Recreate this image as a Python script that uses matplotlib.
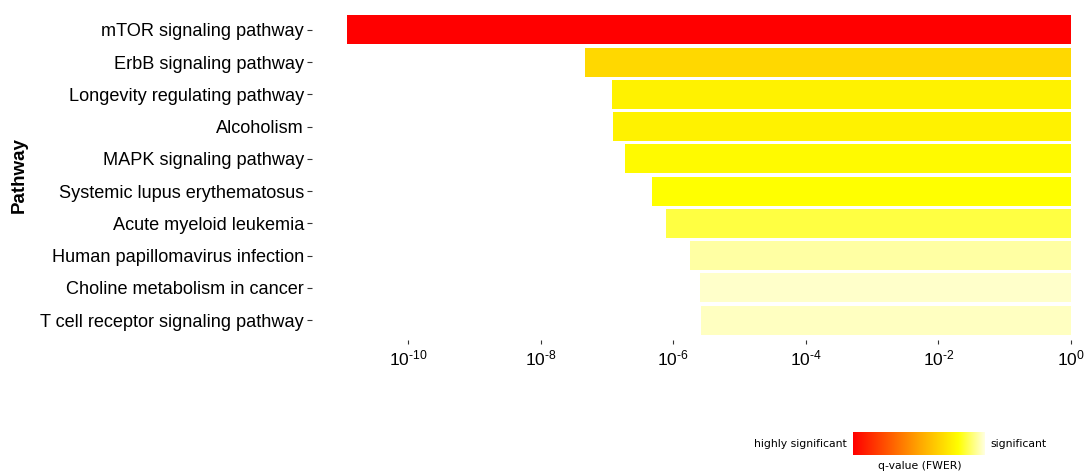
import numpy as np
import matplotlib
matplotlib.use('Agg')
import matplotlib.pyplot as plt
from matplotlib.colors import LinearSegmentedColormap, Normalize

# pathways, top to bottom
pathways = [
    "mTOR signaling pathway",
    "ErbB signaling pathway",
    "Longevity regulating pathway",
    "Alcoholism",
    "MAPK signaling pathway",
    "Systemic lupus erythematosus",
    "Acute myeloid leukemia",
    "Human papillomavirus infection",
    "Choline metabolism in cancer",
    "T cell receptor signaling pathway",
]
# p-value where each bar starts (bars run up to 10^0)
p_values = [1.2e-11, 4.6e-8, 1.2e-7, 1.25e-7, 1.9e-7, 4.8e-7, 7.9e-7, 1.8e-6, 2.5e-6, 2.6e-6]
# q-value (FWER), drives the bar colour
q_fwer = [0.0, 0.0335, 0.0378, 0.0378, 0.0392, 0.0400, 0.0428, 0.0472, 0.0490, 0.0486]

x_ticks = [1e-10, 1e-8, 1e-6, 1e-4, 1e-2, 1e0]
x_tick_labels = [r"$10^{\text{-}10}$", r"$10^{\text{-}8}$", r"$10^{\text{-}6}$",
                 r"$10^{\text{-}4}$", r"$10^{\text{-}2}$", r"$10^{0}$"]

plt.rcParams['font.family'] = ['Liberation Sans', 'DejaVu Sans']
plt.rcParams['mathtext.fontset'] = 'custom'
plt.rcParams['mathtext.rm'] = 'Liberation Sans'
plt.rcParams['mathtext.it'] = 'Liberation Sans:italic'
plt.rcParams['mathtext.default'] = 'rm'

cmap = LinearSegmentedColormap.from_list(
    "sig", [(0.0, '#FF0000'), (0.5, '#FFA500'), (0.8, '#FFFF00'), (1.0, '#FFFFE0')])
norm = Normalize(vmin=0.0, vmax=0.05)

fig = plt.figure(figsize=(10.88, 4.73), dpi=100)
ax = fig.add_axes([0.2868, 0.2812, 0.7132, 0.6977])

y = np.arange(len(pathways))
colors = cmap(norm(np.array(q_fwer)))
ax.barh(y, [1.0 - p for p in p_values], left=p_values, height=0.9, color=colors, edgecolor='none')

ax.set_xscale('log')
ax.set_xlim(10 ** -11.448, 10 ** 0.256)
ax.set_ylim(len(pathways) - 1 + 0.62, -0.62)
ax.set_xticks(x_ticks)
ax.set_xticklabels(x_tick_labels, fontsize=12.5)
ax.minorticks_off()
ax.set_yticks(y)
ax.set_yticklabels(pathways, fontsize=13.1)
ax.tick_params(axis='y', length=3.6, width=0.8, color='#333333', pad=2.2)
ax.tick_params(axis='x', length=3.0, width=0.8, color='#333333', pad=3.0)
for s in ax.spines.values():
    s.set_visible(False)
ax.set_ylabel("Pathway", fontsize=13.5, fontweight='bold')
ax.yaxis.set_label_coords(-0.366, 0.5)

# colour legend at the bottom
cax = fig.add_axes([0.784, 0.038, 0.1213, 0.0486])
grad = np.linspace(0, 0.05, 256).reshape(1, -1)
cax.imshow(grad, aspect='auto', cmap=cmap, norm=norm)
cax.set_axis_off()
fig.text(0.7785, 0.0613, "highly significant", ha='right', va='center',
         fontsize=7.8, family='DejaVu Sans')
fig.text(0.91, 0.0613, "significant", ha='left', va='center',
         fontsize=7.8, family='DejaVu Sans')
fig.text(0.8456, 0.0148, "q-value (FWER)", ha='center', va='center',
         fontsize=7.8, family='DejaVu Sans')

fig.savefig("out.png", dpi=100)
